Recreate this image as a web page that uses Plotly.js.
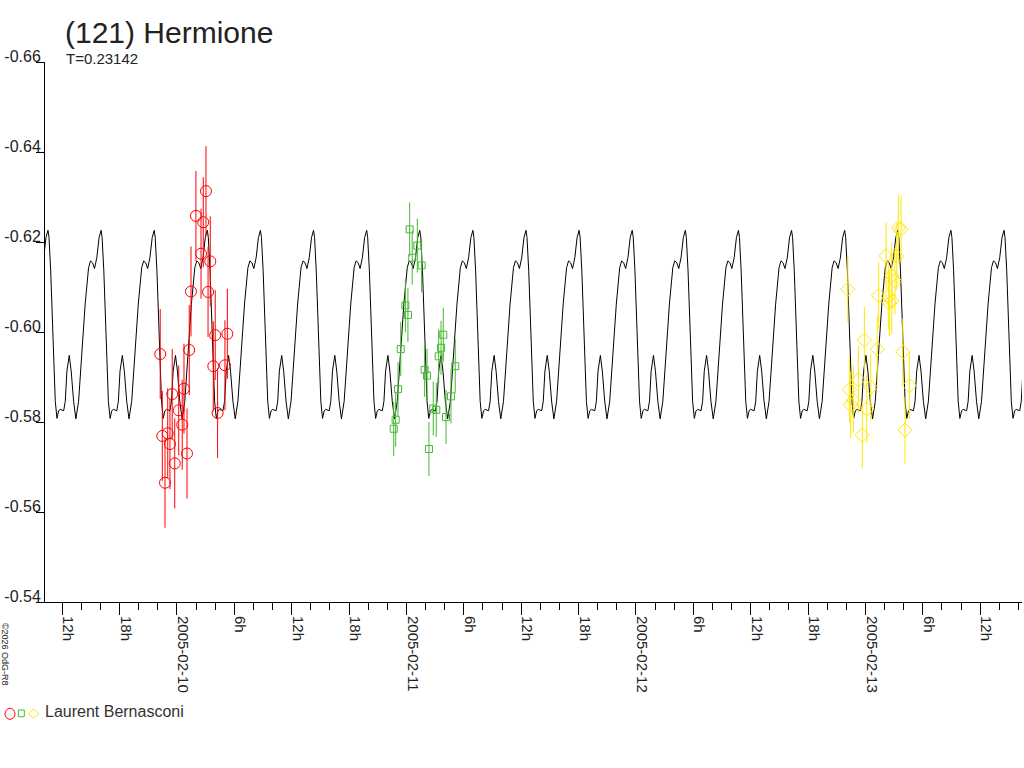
<!DOCTYPE html>
<html>
<head>
<meta charset="utf-8">
<script src="https://cdn.plot.ly/plotly-3.0.1.min.js"></script>
<style>html,body{margin:0;padding:0;background:#fff;}#chart{width:1024px;height:768px;}</style>
</head>
<body>
<div id="chart"></div>
<script>
// ---- data ----
const period = 0.23142; // days (T on chart)
const modelEpoch = '2005-02-11T12:30:00Z'; // a maximum of the model curve
// one period of the model light curve (phase 0 = maximum)
const modelPhase = [0.000, 0.019, 0.051, 0.081, 0.107, 0.137, 0.169, 0.201, 0.231, 0.295, 0.325, 0.356, 0.400, 0.437, 0.482, 0.525, 0.576, 0.600, 0.638, 0.700, 0.764, 0.801, 0.839, 0.876, 0.919, 0.962];
const modelMag   = [-0.6226, -0.6210, -0.6136, -0.6046, -0.5950, -0.5846, -0.5808, -0.5825, -0.5828, -0.5825, -0.5846, -0.5913, -0.5948, -0.5913, -0.5846, -0.5807, -0.5846, -0.5890, -0.5965, -0.6062, -0.6143, -0.6158, -0.6154, -0.6141, -0.6165, -0.6210];

const redTime = ['2005-02-09 22:15','2005-02-09 22:28','2005-02-09 22:45','2005-02-09 23:02','2005-02-09 23:16','2005-02-09 23:30','2005-02-09 23:46','2005-02-10 00:11','2005-02-10 00:33','2005-02-10 00:44','2005-02-10 01:03','2005-02-10 01:17','2005-02-10 01:28','2005-02-10 01:59','2005-02-10 02:31','2005-02-10 02:45','2005-02-10 03:02','2005-02-10 03:15','2005-02-10 03:29','2005-02-10 03:48','2005-02-10 04:00','2005-02-10 04:15','2005-02-10 05:01','2005-02-10 05:16'];
const redMag  = [-0.5951,-0.5769,-0.5665,-0.5775,-0.5751,-0.5862,-0.5708,-0.5826,-0.5794,-0.5874,-0.5730,-0.5960,-0.6090,-0.6258,-0.6174,-0.6244,-0.6313,-0.6089,-0.6157,-0.5924,-0.5993,-0.5820,-0.5926,-0.5996];
const redErr  = [0.010,0.010,0.010,0.010,0.010,0.010,0.010,0.010,0.010,0.010,0.010,0.010,0.010,0.010,0.010,0.010,0.010,0.010,0.010,0.010,0.010,0.010,0.010,0.010];

const greenTime = ['2005-02-10 22:40','2005-02-10 22:52','2005-02-10 23:07','2005-02-10 23:24','2005-02-10 23:53','2005-02-11 00:09','2005-02-11 00:20','2005-02-11 00:36','2005-02-11 01:08','2005-02-11 01:35','2005-02-11 01:54','2005-02-11 02:09','2005-02-11 02:21','2005-02-11 02:48','2005-02-11 03:07','2005-02-11 03:22','2005-02-11 03:37','2005-02-11 03:51','2005-02-11 04:08','2005-02-11 04:39','2005-02-11 05:06'];
const greenMag  = [-0.5785,-0.5805,-0.5873,-0.5962,-0.6059,-0.6038,-0.6228,-0.6165,-0.6192,-0.6148,-0.5916,-0.5903,-0.5740,-0.5830,-0.5827,-0.5946,-0.5965,-0.5994,-0.5811,-0.5857,-0.5924];
const greenErr  = [0.006,0.006,0.006,0.006,0.006,0.006,0.006,0.006,0.006,0.006,0.006,0.006,0.006,0.006,0.006,0.006,0.006,0.006,0.006,0.006,0.006];

const yellowTime = ['2005-02-12 22:09','2005-02-12 22:19','2005-02-12 22:27','2005-02-12 22:44','2005-02-12 23:15','2005-02-12 23:40','2005-02-12 23:53','2005-02-13 00:08','2005-02-13 00:33','2005-02-13 01:14','2005-02-13 01:23','2005-02-13 02:09','2005-02-13 02:23','2005-02-13 02:30','2005-02-13 02:45','2005-02-13 02:45','2005-02-13 03:05','2005-02-13 03:16','2005-02-13 03:26','2005-02-13 03:43','2005-02-13 03:54','2005-02-13 04:08','2005-02-13 04:35'];
const yellowMag  = [-0.6095,-0.5872,-0.5838,-0.5849,-0.5894,-0.5771,-0.5982,-0.5829,-0.5877,-0.5962,-0.6081,-0.6169,-0.6080,-0.6065,-0.6125,-0.6069,-0.6113,-0.6168,-0.6231,-0.6229,-0.5956,-0.5782,-0.5881];
const yellowErr  = [0.0074,0.0074,0.0074,0.0074,0.0074,0.0074,0.0074,0.0074,0.0074,0.0074,0.0074,0.0074,0.0074,0.0074,0.0074,0.0074,0.0074,0.0074,0.0074,0.0074,0.0074,0.0074,0.0074];

const tickVals = ['2005-02-09 12:00','2005-02-09 18:00','2005-02-10 00:00','2005-02-10 06:00','2005-02-10 12:00','2005-02-10 18:00','2005-02-11 00:00','2005-02-11 06:00','2005-02-11 12:00','2005-02-11 18:00','2005-02-12 00:00','2005-02-12 06:00','2005-02-12 12:00','2005-02-12 18:00','2005-02-13 00:00','2005-02-13 06:00','2005-02-13 12:00'];
const tickText = ['12h','18h','2005-02-10','6h','12h','18h','2005-02-11','6h','12h','18h','2005-02-12','6h','12h','18h','2005-02-13','6h','12h'];
const yTickVals = [-0.66,-0.64,-0.62,-0.60,-0.58,-0.56,-0.54];
const yTickText = ['-0.66','-0.64','-0.62','-0.60','-0.58','-0.56','-0.54'];

// ---- repeat the read period across the plotted interval ----
const epochMs = Date.parse(modelEpoch);
const dayMs = 86400000;
const mx = [], my = [];
for (let k = -10; k <= 10; k++) {
  for (let i = 0; i < modelPhase.length; i++) {
    const ms = epochMs + (k + modelPhase[i]) * period * dayMs;
    mx.push(new Date(ms).toISOString().slice(0, 19).replace('T', ' '));
    my.push(modelMag[i]);
  }
}

const RED = 'rgb(255,0,0)', GREEN = 'rgb(70,185,50)', YELLOW = 'rgb(255,232,0)';
const FONT = '"Liberation Sans", Arial, sans-serif';

const traces = [
  {x: mx, y: my, type: 'scatter', mode: 'lines', line: {color: '#000', width: 1}, hoverinfo: 'skip'},
  {x: redTime, y: redMag, type: 'scatter', mode: 'markers',
   marker: {symbol: 'circle-open', size: 11, color: RED, line: {width: 1, color: RED}},
   error_y: {type: 'data', array: redErr, width: 0, thickness: 1, color: RED}},
  {x: greenTime, y: greenMag, type: 'scatter', mode: 'markers',
   marker: {symbol: 'square-open', size: 7, color: GREEN, line: {width: 1, color: GREEN}},
   error_y: {type: 'data', array: greenErr, width: 0, thickness: 1, color: GREEN}},
  {x: yellowTime, y: yellowMag, type: 'scatter', mode: 'markers',
   marker: {symbol: 'diamond-open', size: 11, color: YELLOW, line: {width: 1, color: YELLOW}},
   error_y: {type: 'data', array: yellowErr, width: 0, thickness: 1, color: YELLOW}}
];

const layout = {
  width: 1024, height: 768,
  margin: {l: 45, r: 2, t: 62, b: 166, pad: 0},
  paper_bgcolor: '#fff', plot_bgcolor: '#fff',
  showlegend: false,
  font: {family: FONT, color: '#222'},
  xaxis: {
    type: 'date', range: ['2005-02-09 10:12', '2005-02-13 16:22'],
    showgrid: false, zeroline: false, showline: true, linecolor: '#000', linewidth: 1,
    tickmode: 'array', tickvals: tickVals, ticktext: tickText,
    ticks: 'outside', ticklen: 12, tickcolor: '#000', tickwidth: 1,
    tickangle: 90, ticklabelshift: 6, ticklabelstandoff: -2,
    tickfont: {family: FONT, size: 15, color: '#222'},
    minor: {tickmode: 'linear', tick0: '2005-02-09 10:00', dtick: 7200000, ticks: 'outside', ticklen: 7, tickcolor: '#000', tickwidth: 1, showgrid: false}
  },
  yaxis: {
    range: [-0.54, -0.66],
    showgrid: false, zeroline: false, showline: true, linecolor: '#000', linewidth: 1,
    tickmode: 'array', tickvals: yTickVals, ticktext: yTickText,
    ticks: 'outside', ticklen: 8, tickcolor: '#000', tickwidth: 1,
    ticklabelposition: 'outside top', ticklabelshift: -6,
    tickfont: {family: FONT, size: 16, color: '#222'}
  },
  annotations: [
    {text: '(121) Hermione', xref: 'paper', yref: 'paper', x: 0.0185, y: 1.0555, xanchor: 'left', yanchor: 'middle', showarrow: false, font: {family: FONT, size: 30, color: '#222'}},
    {text: 'T=0.23142', xref: 'paper', yref: 'paper', x: 0.0195, y: 1.0065, xanchor: 'left', yanchor: 'middle', showarrow: false, font: {family: FONT, size: 15, color: '#222'}},
    {text: 'Laurent Bernasconi', xref: 'paper', yref: 'paper', x: -0.002, y: -0.2037, xanchor: 'left', yanchor: 'middle', showarrow: false, font: {family: FONT, size: 16, color: '#333'}},
    {text: '©2026 OdG-R8', xref: 'paper', yref: 'paper', x: -0.0409, y: -0.0963, xanchor: 'center', yanchor: 'middle', textangle: 90, showarrow: false, font: {family: FONT, size: 9, color: '#222'}}
  ],
  shapes: [
    {type: 'circle', xref: 'paper', yref: 'paper', xsizemode: 'pixel', ysizemode: 'pixel', xanchor: 0, yanchor: 0,
     x0: -40, x1: -30, y0: -117.3, y1: -106.3, line: {color: RED, width: 1}},
    {type: 'rect', xref: 'paper', yref: 'paper', xsizemode: 'pixel', ysizemode: 'pixel', xanchor: 0, yanchor: 0,
     x0: -26.7, x1: -20.7, y0: -114.7, y1: -108, line: {color: GREEN, width: 1}},
    {type: 'path', xref: 'paper', yref: 'paper', xsizemode: 'pixel', ysizemode: 'pixel', xanchor: 0, yanchor: 0,
     path: 'M -16.7,-111.7 L -11.3,-107 L -6,-111.7 L -11.3,-116.3 Z', line: {color: YELLOW, width: 1}}
  ]
};

Plotly.newPlot('chart', traces, layout, {staticPlot: true, displayModeBar: false});
</script>
</body>
</html>
